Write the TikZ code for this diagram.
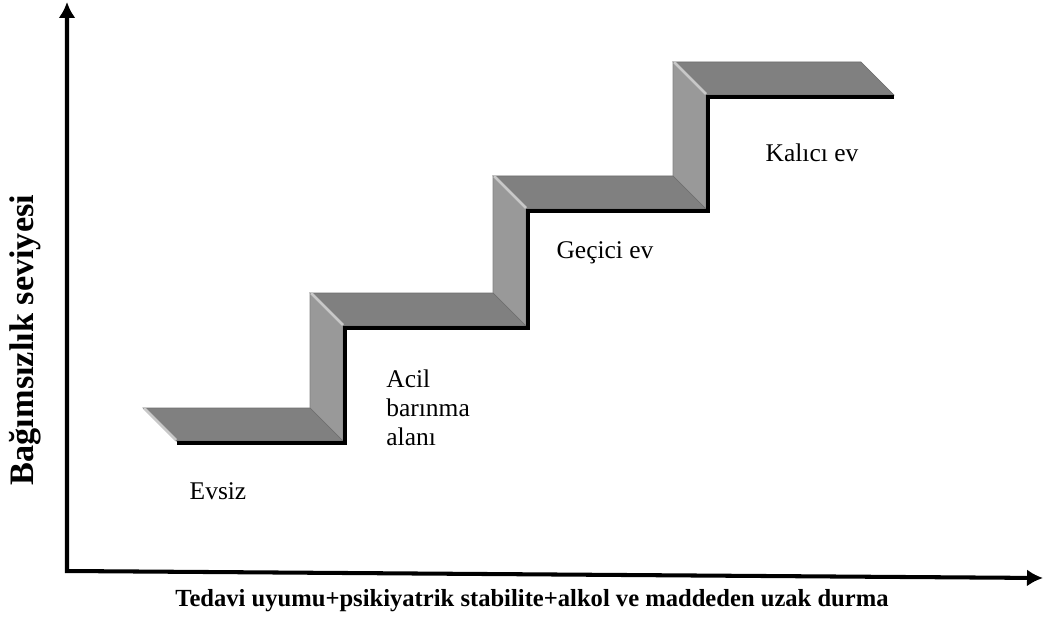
\documentclass[tikz,border=0pt]{standalone}
\usepackage{fontspec}
\setmainfont{Liberation Serif}
\usepackage{xcolor}
\usepackage{tikz}
\usetikzlibrary{arrows.meta}
\definecolor{treadgray}{RGB}{128,128,128}
\definecolor{risergray}{RGB}{153,153,153}
\definecolor{edgegray}{RGB}{200,200,200}
\tikzset{%
  >={Latex[width=3.4mm,length=3.2mm]},
  % Specifications for style of shapes and texts:
  axis/.style = {line width=2.3pt, line join=miter},
  tread/.style = {fill=treadgray, draw=treadgray!85!black, line width=0.3pt},
  riser/.style = {fill=risergray, draw=risergray!85!black, line width=0.3pt},
  lightedge/.style = {draw=edgegray, line width=1.5pt},
  shadow/.style = {draw=black, line width=2.5pt, line join=miter},
  stage/.style = {font=\fontsize{14.5}{16.5}\selectfont, align=left, inner sep=0pt},
  axislabel/.style = {font=\bfseries\fontsize{14}{16}\selectfont, inner sep=0pt},
}

\begin{document}
\begin{tikzpicture}[x=0.02cm, y=-0.02cm]
  \useasboundingbox (0,0) rectangle (1044,618);
  % Risers between the steps
  \foreach \rx/\ry/\ty in {310/408/293, 493/293/176, 673/176/62}{
    \draw[riser] (\rx,\ty) -- (\rx,\ry) -- ++(33,33) -- (\rx+33,\ty+33) -- cycle;
  }
  % Treads of the steps
  \foreach \bx/\by/\w in {143/408/167, 310/293/183, 493/176/180, 673/62/188}{
    \draw[tread] (\bx,\by) -- ++(\w,0) -- ++(33,33) -- ++(-\w,0) -- cycle;
    \draw[lightedge] (\bx+1,\by) -- ++(32,32);
  }
  % Shadow along the front edges
  \draw[shadow] (177,443) -| (345,328) -| (528,211) -| (708,97) -- (894,97);
  % Axes
  \coordinate (origin) at (67,571);
  \coordinate (ytip) at (67,2);
  \coordinate (xtip) at (1043,578);
  \draw[axis, <->] (ytip) -- (origin) -- (xtip);
  % Specification of labels
  \node[stage] (evsiz) at (218,491) {Evsiz};
  \node[stage, anchor=north west] (acil) at (386,369) {Acil\\barınma\\alanı};
  \node[stage] (gecici) at (605,253) {Geçici ev};
  \node[stage] (kalici) at (812,153) {Kalıcı ev};
  \node[axislabel] (xlabel) at (532,601) {Tedavi uyumu+psikiyatrik stabilite+alkol ve maddeden uzak durma};
  \node[axislabel, rotate=90, font=\bfseries\fontsize{19.5}{21}\selectfont] (ylabel) at (25,340) {Bağımsızlık seviyesi};
\end{tikzpicture}
\end{document}
